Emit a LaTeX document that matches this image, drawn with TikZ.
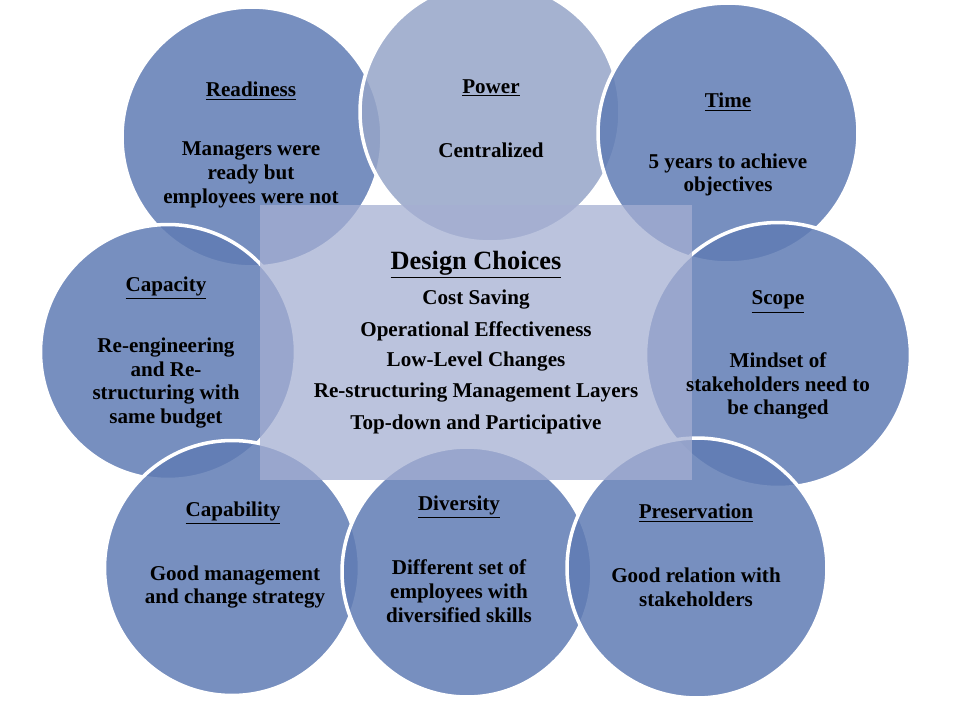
\documentclass[tikz,border=0pt]{standalone}
\usepackage{fontspec}
\setmainfont{Liberation Serif}
\usetikzlibrary{positioning}
\definecolor{ringblue}{RGB}{96,124,180}
\definecolor{paleblue}{RGB}{150,165,200}
\definecolor{boxblue}{RGB}{165,175,210}
\tikzset{
    ring/.style={circle,draw=white,line width=2pt,fill=ringblue,fill opacity=0.85,
      inner sep=0pt},
    hdr/.style={font=\bfseries\fontsize{12}{13.5}\selectfont,inner sep=0pt},
  }
\begin{document}
\begin{tikzpicture}[x=0.02cm,y=-0.02cm]
				  \useasboundingbox (0,0) rectangle (960,720);
				  \fill[white] (0,0) rectangle (960,720);
				  % circles
				  \node[ring,minimum size=5.2cm] (ready) at (252,137) {};
				  \node[ring,fill=paleblue,minimum size=5.2cm] (power) at (490,112) {};
				  \node[ring,minimum size=5.2cm] (time) at (728,133) {};
				  \node[ring,minimum size=5.1cm] (capa) at (168,352) {};
				  \node[ring,minimum size=5.3cm] (scope) at (778,355) {};
				  \node[ring,minimum size=5.1cm] (capab) at (232,568) {};
				  \node[ring,minimum size=5.0cm] (div) at (467,572) {};
				  \node[ring,minimum size=5.2cm] (pres) at (697,568) {};
				  % centre box
				  \fill[boxblue,opacity=0.75] (260,205) rectangle (692,480);
				  \node[font=\bfseries\fontsize{15}{17}\selectfont] (design) at (476,265) {\underline{Design Choices}};
				  \node[hdr] (cost) at (476,300) {Cost Saving};
				  \node[hdr] (oper) at (476,331) {Operational Effectiveness};
				  \node[hdr] (low) at (476,362) {Low-Level Changes};
				  \node[hdr] (restr) at (476,393) {Re-structuring Management Layers};
				  \node[hdr] (top) at (476,424) {Top-down and Participative};
				  % labels
				  \node[hdr] at (251,91) {\underline{Readiness}};
				  \node[hdr,align=center] at (251,175) {Managers were\\ready but\\employees were not};
				  \node[hdr] at (491,88) {\underline{Power}};
				  \node[hdr] at (491,150) {Centralized};
				  \node[hdr] at (728,102) {\underline{Time}};
				  \node[hdr,align=center] at (728,175) {5 years to achieve\\objectives};
				  \node[hdr] at (166,288) {\underline{Capacity}};
				  \node[hdr,align=center] at (166,383) {Re-engineering\\and Re-\\structuring with\\same budget};
				  \node[hdr] at (778,302) {\underline{Scope}};
				  \node[hdr,align=center] at (778,386) {Mindset of\\stakeholders need to\\be changed};
				  \node[hdr] at (233,513) {\underline{Capability}};
				  \node[hdr,align=center] at (235,587) {Good management\\and change strategy};
				  \node[hdr] at (459,507) {\underline{Diversity}};
				  \node[hdr,align=center] at (459,591) {Different set of\\employees with\\diversified skills};
				  \node[hdr] at (696,513) {\underline{Preservation}};
				  \node[hdr,align=center] at (696,587) {Good relation with\\stakeholders};
\end{tikzpicture}
\end{document}
